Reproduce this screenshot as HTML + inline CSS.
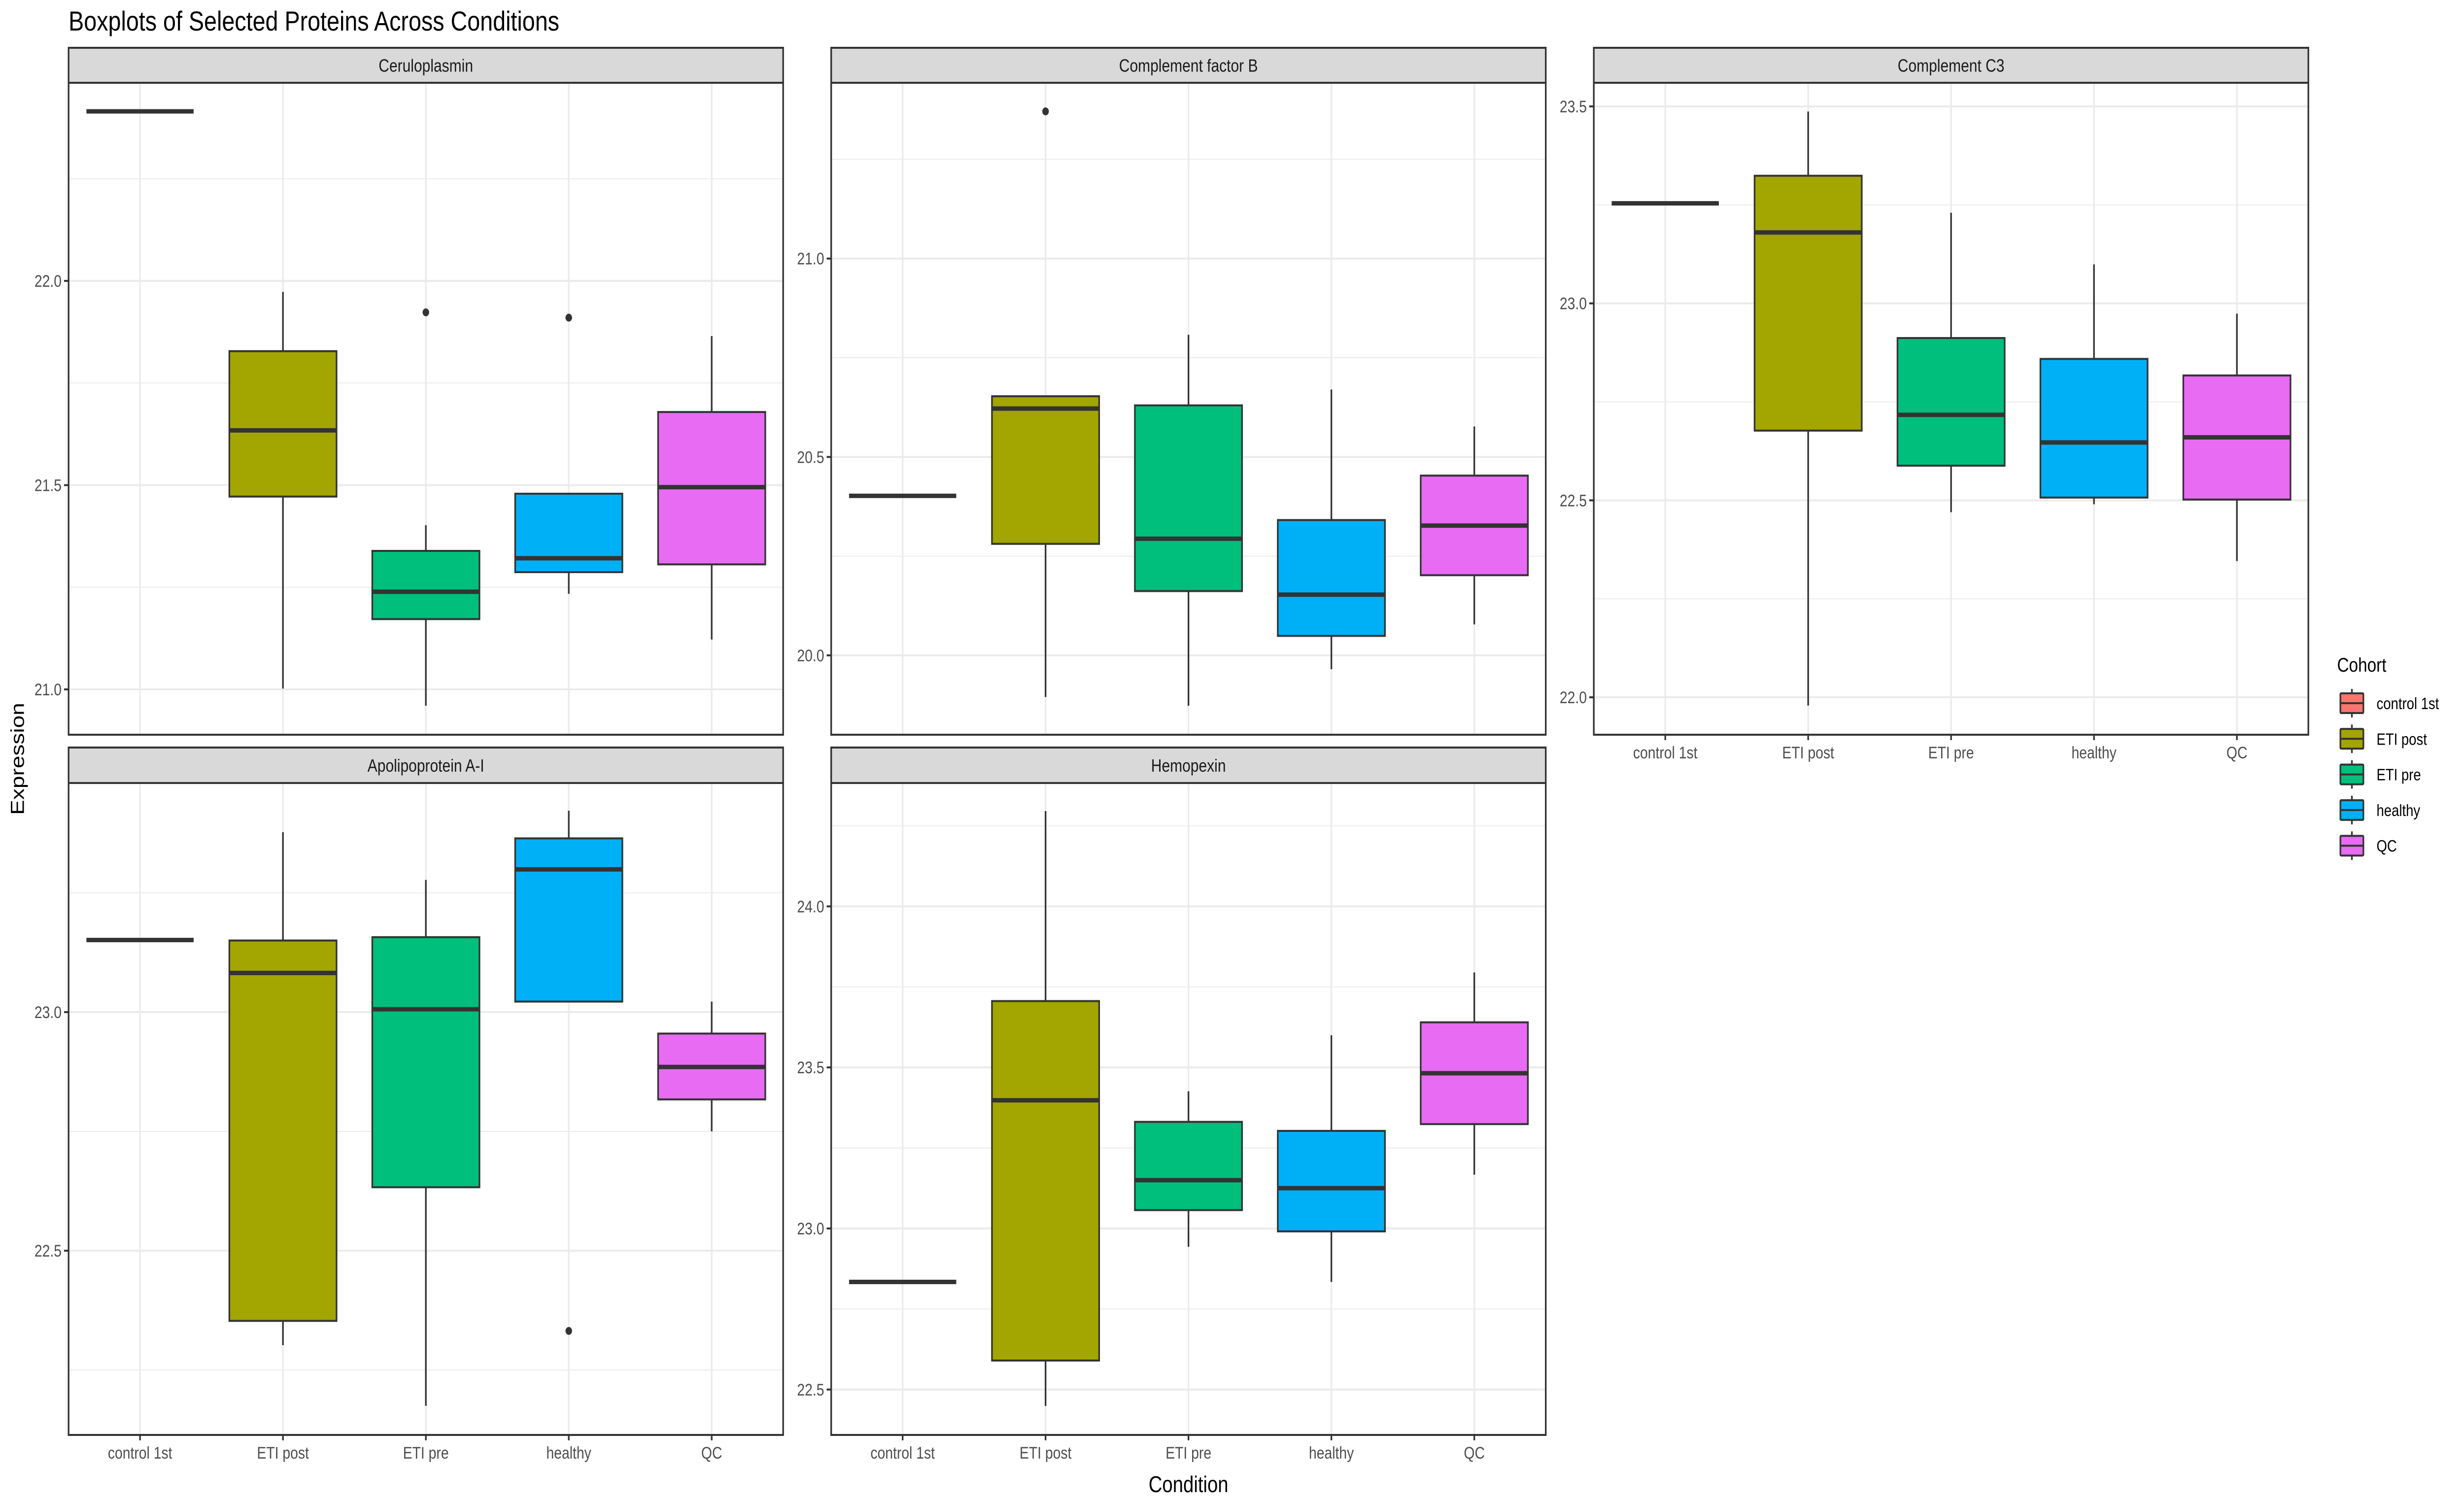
<!DOCTYPE html>
<html><head><meta charset="utf-8"><style>
html,body{margin:0;padding:0;background:#fff;width:100%;height:100%;overflow:hidden;}
svg{display:block;width:100vw;height:100vh;font-family:"Liberation Sans",Arial,sans-serif;}
</style></head><body>
<svg id="chart" xmlns="http://www.w3.org/2000/svg" viewBox="0 0 6000 3042" preserveAspectRatio="none">
<rect width="6000" height="3042" fill="#fff"/>
<text x="167" y="62" font-size="56" fill="#000">Boxplots of Selected Proteins Across Conditions</text>
<text x="2894" y="3028" font-size="46" text-anchor="middle" fill="#000">Condition</text>
<text transform="translate(58,1540) rotate(-90)" font-size="46" text-anchor="middle" fill="#000">Expression</text>
<g id="panels"></g>
<g id="legend"></g>
</svg>
<script>
const categories = ["control 1st","ETI post","ETI pre","healthy","QC"];
const colors = ["#F8766D","#A3A500","#00BF7D","#00B0F6","#E76BF3"];
const proteins = ["Ceruloplasmin","Complement factor B","Complement C3","Apolipoprotein A-I","Hemopexin"];
// [low whisker, Q1, median, Q3, high whisker] per category
const ceruloStats = [[22.415,22.415,22.415,22.415,22.415],[21.002,21.472,21.634,21.828,21.973],[20.96,21.172,21.239,21.339,21.402],[21.234,21.287,21.321,21.479,21.479],[21.122,21.306,21.495,21.679,21.865]];
const ceruloOutliers = [[],[],[21.923],[21.91],[]];
const factorBStats = [[20.402,20.402,20.402,20.402,20.402],[19.895,20.281,20.622,20.653,20.653],[19.873,20.162,20.294,20.630,20.808],[19.965,20.049,20.153,20.341,20.670],[20.078,20.202,20.327,20.453,20.577]];
const factorBOutliers = [[],[21.371],[],[],[]];
const c3Stats = [[23.254,23.254,23.254,23.254,23.254],[21.979,22.677,23.18,23.324,23.487],[22.47,22.588,22.717,22.912,23.23],[22.49,22.507,22.647,22.859,23.099],[22.346,22.502,22.66,22.817,22.974]];
const c3Outliers = [[],[],[],[],[]];
const apoStats = [[23.151,23.151,23.151,23.151,23.151],[22.302,22.353,23.082,23.150,23.377],[22.175,22.633,23.006,23.157,23.277],[23.022,23.022,23.299,23.364,23.422],[22.75,22.817,22.885,22.955,23.022]];
const apoOutliers = [[],[],[],[22.332],[]];
const hemoStats = [[22.834,22.834,22.834,22.834,22.834],[22.449,22.590,23.398,23.706,24.296],[22.943,23.057,23.150,23.331,23.426],[22.834,22.991,23.125,23.303,23.600],[23.167,23.324,23.482,23.640,23.795]];
const hemoOutliers = [[],[],[],[],[]];
const yDomains = [[20.889,22.485],[19.800,21.443],[21.905,23.560],[22.114,23.480],[22.359,24.383]];
const yTicks = [[21.0,21.5,22.0],[20.0,20.5,21.0],[22.0,22.5,23.0,23.5],[22.5,23.0],[22.5,23.0,23.5,24.0]];
const allStats = [ceruloStats,factorBStats,c3Stats,apoStats,hemoStats];
const allOutliers = [ceruloOutliers,factorBOutliers,c3Outliers,apoOutliers,hemoOutliers];

const NS="http://www.w3.org/2000/svg";
function mk(tag,attrs,parent){const e=document.createElementNS(NS,tag);for(const k in attrs)e.setAttribute(k,attrs[k]);parent.appendChild(e);return e;}
const layout=[{x:167,y:168,s:97,xl:false},{x:2024,y:168,s:97,xl:false},{x:3881,y:168,s:97,xl:true},{x:167,y:1589,s:1517,xl:true},{x:2024,y:1589,s:1517,xl:true}];
const PW=1740, PH=1323;
const root=document.getElementById('panels');
proteins.forEach((name,p)=>{
  const L=layout[p];
  const g=mk('g',{},root);
  
  
  const [d0,d1]=yDomains[p];
  const yS=v=>L.y+PH-(v-d0)/(d1-d0)*PH;
  const step=PW/5;
  const xS=i=>L.x+step*(i+0.5);
  const strip=mk('rect',{x:L.x,y:L.s,width:PW,height:L.y-L.s,fill:'#d9d9d9',stroke:'#333','stroke-width':4},g);
  
  
  const st=mk('text',{x:L.x+PW/2,y:L.s+(L.y-L.s)/2+13,'font-size':36,'text-anchor':'middle',fill:'#1a1a1a'},g);
  st.textContent=name;
  
  
  const tk=yTicks[p];
  const minors=[];
  const dt=tk.length>1?tk[1]-tk[0]:0.5;
  for(let v=tk[0]-dt/2; v<=d1; v+=dt){ if(v>=d0) minors.push(v); }
  minors.forEach(v=>mk('line',{x1:L.x,x2:L.x+PW,y1:yS(v),y2:yS(v),stroke:'#ebebeb','stroke-width':2},g));
  tk.forEach(v=>mk('line',{x1:L.x,x2:L.x+PW,y1:yS(v),y2:yS(v),stroke:'#ebebeb','stroke-width':4},g));
  categories.forEach((c,i)=>mk('line',{x1:xS(i),x2:xS(i),y1:L.y,y2:L.y+PH,stroke:'#ebebeb','stroke-width':4},g));
  tk.forEach(v=>{
    mk('line',{x1:L.x-11,x2:L.x,y1:yS(v),y2:yS(v),stroke:'#333','stroke-width':4},g);
    const t=mk('text',{x:L.x-17,y:yS(v)+12,'font-size':34,'text-anchor':'end',fill:'#4d4d4d'},g);
    t.textContent=v.toFixed(1);
    
    
  });
  const stats=allStats[p], outs=allOutliers[p];
  categories.forEach((c,i)=>{
    const s=stats[i]; const cx=xS(i); const hw=step*0.375;
    const bg=mk('g',{},g);
    
    
    mk('line',{x1:cx,x2:cx,y1:yS(s[4]),y2:yS(s[3]),stroke:'#333','stroke-width':4},bg);
    mk('line',{x1:cx,x2:cx,y1:yS(s[1]),y2:yS(s[0]),stroke:'#333','stroke-width':4},bg);
    mk('rect',{x:cx-hw,y:yS(s[3]),width:hw*2,height:Math.max(0,yS(s[1])-yS(s[3])),fill:colors[i],stroke:'#333','stroke-width':4},bg);
    mk('line',{x1:cx-hw,x2:cx+hw,y1:yS(s[2]),y2:yS(s[2]),stroke:'#333','stroke-width':9},bg);
    outs[i].forEach(v=>{
      const o=mk('circle',{cx:cx,cy:yS(v),r:8,fill:'#333'},bg);
      
      
    });
  });
  mk('rect',{x:L.x,y:L.y,width:PW,height:PH,fill:'none',stroke:'#333','stroke-width':4},g);
  if(L.xl){
    categories.forEach((c,i)=>{
      mk('line',{x1:xS(i),x2:xS(i),y1:L.y+PH,y2:L.y+PH+11,stroke:'#333','stroke-width':4},g);
      const t=mk('text',{x:xS(i),y:L.y+PH+48,'font-size':34,'text-anchor':'middle',fill:'#4d4d4d'},g);
      t.textContent=c;
      
      
    });
  }
});
const lg=document.getElementById('legend');
const lt=mk('text',{x:5691,y:1363,'font-size':40,fill:'#000'},lg);
lt.textContent='Cohort';


categories.forEach((c,i)=>{
  const cy=1427+i*72.3;
  const e=mk('g',{},lg);
  
  
  mk('line',{x1:5727,x2:5727,y1:cy-29,y2:cy+29,stroke:'#333','stroke-width':4},e);
  mk('rect',{x:5699,y:cy-20,width:56,height:40,fill:colors[i],stroke:'#333','stroke-width':4,rx:2},e);
  mk('line',{x1:5699,x2:5755,y1:cy,y2:cy,stroke:'#333','stroke-width':4},e);
  const t=mk('text',{x:5787,y:cy+12,'font-size':33,fill:'#000'},e);
  t.textContent=c;
});
</script>
</body></html>
